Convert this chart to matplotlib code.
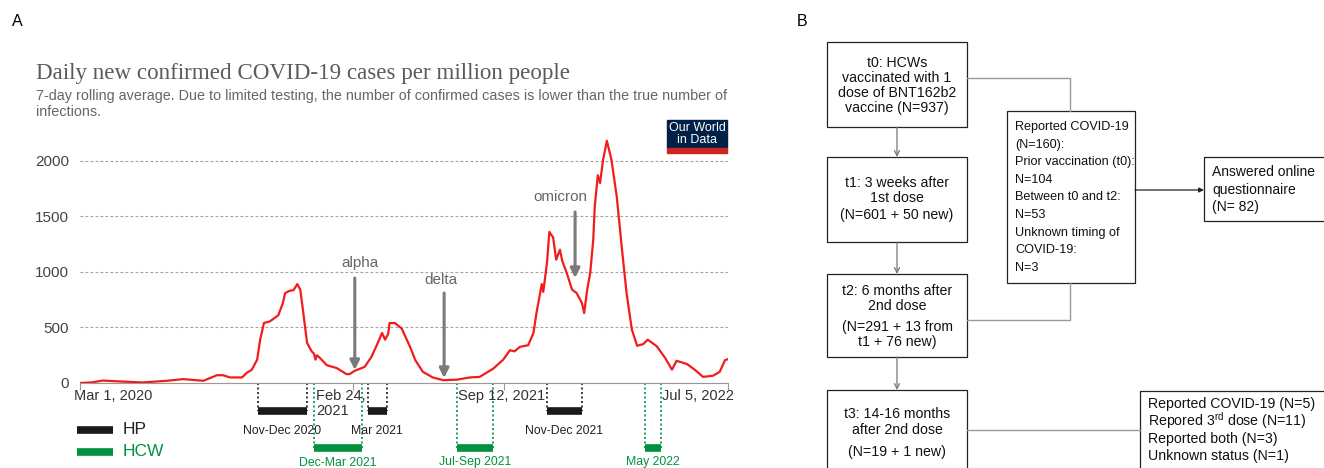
import pandas as pd
import matplotlib
matplotlib.use("Agg")
import matplotlib.pyplot as plt
import matplotlib.dates as mdates
from matplotlib.patches import Rectangle

plt.rcParams['font.family'] = ['Liberation Sans', 'DejaVu Sans']
plt.rcParams['mathtext.default'] = 'regular'

# daily new confirmed cases per million (7-day avg)
case_dates = [
    '2020-03-01', '2020-03-16', '2020-03-31', '2020-04-20', '2020-05-23', '2020-06-24',
    '2020-07-15', '2020-08-11', '2020-08-29', '2020-09-06', '2020-09-15', '2020-10-01',
    '2020-10-07', '2020-10-14', '2020-10-21', '2020-10-25', '2020-10-30', '2020-11-07',
    '2020-11-18', '2020-11-24', '2020-11-27', '2020-12-03', '2020-12-08', '2020-12-13',
    '2020-12-17', '2020-12-21', '2020-12-26', '2021-01-01', '2021-01-04', '2021-01-06',
    '2021-01-08', '2021-01-12', '2021-01-21', '2021-02-03', '2021-02-16', '2021-02-20',
    '2021-02-27', '2021-03-12', '2021-03-21', '2021-03-28', '2021-04-04', '2021-04-08',
    '2021-04-12', '2021-04-14', '2021-04-21', '2021-04-30', '2021-05-11', '2021-05-18',
    '2021-05-28', '2021-06-10', '2021-06-24', '2021-07-12', '2021-07-29', '2021-08-11',
    '2021-08-29', '2021-09-11', '2021-09-20', '2021-09-26', '2021-10-03', '2021-10-14',
    '2021-10-21', '2021-10-25', '2021-11-01', '2021-11-03', '2021-11-08', '2021-11-11',
    '2021-11-16', '2021-11-20', '2021-11-25', '2021-11-28', '2021-12-04', '2021-12-11',
    '2021-12-17', '2021-12-24', '2021-12-27', '2021-12-31', '2022-01-04', '2022-01-08',
    '2022-01-10', '2022-01-14', '2022-01-17', '2022-01-21', '2022-01-26', '2022-02-01',
    '2022-02-08', '2022-02-15', '2022-02-21', '2022-02-28', '2022-03-07', '2022-03-15',
    '2022-03-21', '2022-04-02', '2022-04-13', '2022-04-22', '2022-04-28', '2022-05-12',
    '2022-05-22', '2022-06-02', '2022-06-15', '2022-06-24', '2022-07-01', '2022-07-05',
]
case_values = [
    0, 5, 22, 15, 5, 20,
    35, 20, 70, 70, 50, 50,
    90, 120, 210, 390, 540, 555,
    610, 720, 810, 830, 835, 890,
    840, 630, 360, 285, 265, 210,
    250, 225, 160, 135, 80, 80,
    110, 145, 235, 340, 450, 390,
    440, 540, 540, 490, 325, 205,
    100, 50, 25, 30, 50, 55,
    130, 210, 295, 285, 325, 340,
    450, 630, 890, 820, 1090, 1360,
    1310, 1110, 1200, 1100, 990, 840,
    810, 720, 630, 840, 990, 1290,
    1590, 1870, 1800, 2010, 2180, 2010,
    1680, 1200, 810, 480, 335, 350,
    390, 330, 225, 120, 200, 170,
    120, 55, 65, 100, 205, 215,
]

x_start = '2020-03-01'
x_end = '2022-07-05'
y_ticks = [0, 500, 1000, 1500, 2000]
tick_dates = ['2020-03-01', '2021-02-24', '2021-09-12', '2022-07-05']
tick_labels = ['Mar 1, 2020', 'Feb 24,\n2021', 'Sep 12, 2021', 'Jul 5, 2022']

variant_names = ['alpha', 'delta', 'omicron']
variant_dates = ['2021-02-27', '2021-06-25', '2021-12-15']
variant_label_dates = ['2021-03-06', '2021-06-21', '2021-11-25']
variant_label_y = [1080, 927, 1674]
variant_tail = [945, 810, 1539]
variant_tip = [117, 45, 945]

hp_labels = ['Nov-Dec 2020', 'Mar 2021', 'Nov-Dec 2021']
hp_start = ['2020-10-22', '2021-03-16', '2021-11-08']
hp_end = ['2020-12-26', '2021-04-10', '2021-12-24']
hcw_labels = ['Dec-Mar 2021', 'Jul-Sep 2021', 'May 2022']
hcw_start = ['2021-01-04', '2021-07-12', '2022-03-17']
hcw_end = ['2021-03-09', '2021-08-29', '2022-04-07']

RED = '#f21c1c'
GREEN = '#00923f'
GREY_ARROW = '#7a7a7a'


def dnum(s):
    return mdates.date2num(pd.Timestamp(s))


fig = plt.figure(figsize=(13.24, 4.68), dpi=100)

# overlay in pixel coords for everything that is not on the chart scale
ov = fig.add_axes([0, 0, 1, 1])
ov.set_xlim(0, 1324)
ov.set_ylim(468, 0)
ov.axis('off')

ax = fig.add_axes([80 / 1324, 85 / 468, 648 / 1324, 250 / 468])
ax.patch.set_alpha(0)

ax.plot([dnum(d) for d in case_dates], case_values, color=RED, lw=1.6,
        solid_joinstyle='round', zorder=3)

ax.set_xlim(dnum(x_start), dnum(x_end))
ax.set_ylim(0, 2250)
ax.set_yticks(y_ticks)
ax.yaxis.grid(True, color='#a0a0a0', lw=0.8, ls=(0, (2.5, 2)))
ax.tick_params(axis='y', length=0, pad=8, labelsize=11, labelcolor='#444444')
for s in ['top', 'right', 'left']:
    ax.spines[s].set_visible(False)
ax.spines['bottom'].set_color('#999999')
ax.set_xticks([dnum(d) for d in tick_dates])
ax.set_xticklabels([])
ax.tick_params(axis='x', length=5, color='#999999')

# x tick labels, placed like OWID does (clamped at edges)
offs = [(-4, 'left'), (-26, 'left'), (-2, 'center'), (4, 'right')]
for d, lab, (dx, ha) in zip(tick_dates, tick_labels, offs):
    ax.annotate(lab, xy=(dnum(d), 0), xycoords=('data', 'axes fraction'),
                xytext=(dx, -4), textcoords='offset points', ha=ha, va='top',
                fontsize=10.5, color='#333333', linespacing=1.1)

# variant arrows
for name, d, ld, ly, tail, tip in zip(variant_names, variant_dates, variant_label_dates,
                                      variant_label_y, variant_tail, variant_tip):
    x = dnum(d)
    ax.annotate('', xy=(x, tip), xytext=(x, tail),
                arrowprops=dict(arrowstyle='-|>', color=GREY_ARROW, lw=2.2,
                                mutation_scale=14, shrinkA=0, shrinkB=0), zorder=4)
    ax.text(dnum(ld), ly, name, ha='center', va='center', fontsize=11, color='#666666')

# study periods under the axis
xt = ax.get_xaxis_transform()
for labs, starts, ends, col, ybar, ylab in [
        (hp_labels, hp_start, hp_end, '#1a1a1a', -0.112, -0.19),
        (hcw_labels, hcw_start, hcw_end, GREEN, -0.26, -0.318)]:
    for lab, s, e in zip(labs, starts, ends):
        x0, x1 = dnum(s), dnum(e)
        ax.plot([x0, x1], [ybar, ybar], transform=xt, color=col, lw=5.5,
                solid_capstyle='butt', clip_on=False)
        for xx in (x0, x1):
            ax.plot([xx, xx], [0, ybar], transform=xt, color=col, lw=1.2,
                    ls=(0, (1.2, 1.5)), clip_on=False)
        ax.text((x0 + x1) / 2, ylab, lab, transform=xt, ha='center', va='center',
                fontsize=8.8, color=col if col == GREEN else '#222222')

# legend
ov.plot([77, 113], [430, 430], color='#1a1a1a', lw=5.5, solid_capstyle='butt')
ov.text(123, 430, 'HP', fontsize=12.5, va='center', color='#222222')
ov.plot([77, 113], [452, 452], color=GREEN, lw=5.5, solid_capstyle='butt')
ov.text(123, 452, 'HCW', fontsize=12.5, va='center', color=GREEN)

# titles
ov.text(12, 22, 'A', fontsize=11.5, va='center')
ov.text(797, 22, 'B', fontsize=11.5, va='center')
ov.text(36, 79.5, 'Daily new confirmed COVID-19 cases per million people',
        family=['Liberation Serif', 'DejaVu Serif'], fontsize=16.6,
        color='#5b5b5b', va='baseline')
ov.text(36, 100, '7-day rolling average. Due to limited testing, the number of '
        'confirmed cases is lower than the true number of', fontsize=10.4,
        color='#666666', va='baseline')
ov.text(36, 116, 'infections.', fontsize=10.4, color='#666666', va='baseline')

# OWID logo
ov.add_patch(Rectangle((667, 120), 60, 28, color='#002147'))
ov.add_patch(Rectangle((667, 148), 60, 5, color='#ce261e'))
ov.text(697, 134, 'Our World\nin Data', color='white', fontsize=9, ha='center',
        va='center', linespacing=1.0)

# ---- panel B: flowchart ----
box_kw = dict(fill=False, edgecolor='#222222', lw=0.9)
conn = dict(color='#9a9a9a', lw=1.0)

boxes = [(827, 42, 140, 85), (827, 157, 140, 85), (827, 274, 140, 83),
         (827, 390, 140, 90), (1007, 111, 128, 172), (1204, 157, 130, 64),
         (1140, 391, 190, 90)]
for bx, by, bw, bh in boxes:
    ov.add_patch(Rectangle((bx, by), bw, bh, **box_kw))

# connectors
ov.plot([967, 1070, 1070], [78, 78, 111], **conn)
ov.plot([1070, 1070, 967], [283, 320, 320], **conn)
ov.plot([967, 1140], [430, 430], **conn)
ov.annotate('', xy=(1204, 190), xytext=(1135, 190),
            arrowprops=dict(arrowstyle='-|>', color='#222222', lw=0.9,
                            mutation_scale=7, shrinkA=0, shrinkB=0))
for y0, y1 in [(127, 157), (242, 274), (357, 390)]:
    ov.annotate('', xy=(897, y1), xytext=(897, y0),
                arrowprops=dict(arrowstyle='->', color='#777777', lw=0.9,
                                mutation_scale=9, shrinkA=0, shrinkB=0))

center_texts = [
    (['t0: HCWs', 'vaccinated with 1', 'dose of BNT162b2', 'vaccine (N=937)'],
     [63, 78, 93, 108]),
    (['t1: 3 weeks after', '1st dose', '(N=601 + 50 new)'], [183, 198, 215]),
    (['t2: 6 months after', '2nd dose', '(N=291 + 13 from', 't1 + 76 new)'],
     [291, 306, 327, 342]),
    (['t3: 14-16 months', 'after 2nd dose', '(N=19 + 1 new)'], [414, 430, 452]),
]
for lines, ys in center_texts:
    for t, y in zip(lines, ys):
        ov.text(897, y, t, ha='center', va='center', fontsize=10.2, color='#111111')

covid_lines = ['Reported COVID-19', '(N=160):', 'Prior vaccination (t0):', 'N=104',
               'Between t0 and t2:', 'N=53', 'Unknown timing of', 'COVID-19:', 'N=3']
for i, t in enumerate(covid_lines):
    ov.text(1015, 127 + 17.6 * i, t, va='center', fontsize=9.1, color='#111111')

for t, y in zip(['Answered online', 'questionnaire', '(N= 82)'], [172, 190, 207]):
    ov.text(1212, y, t, va='center', fontsize=10, color='#111111')

t3_lines = ['Reported COVID-19 (N=5)', 'Repored 3$^{rd}$ dose (N=11)',
            'Reported both (N=3)', 'Unknown status (N=1)']
for t, y in zip(t3_lines, [404, 421, 439, 456]):
    ov.text(1148, y, t, va='center', fontsize=10.2, color='#111111')

fig.savefig('out.png', dpi=100)
